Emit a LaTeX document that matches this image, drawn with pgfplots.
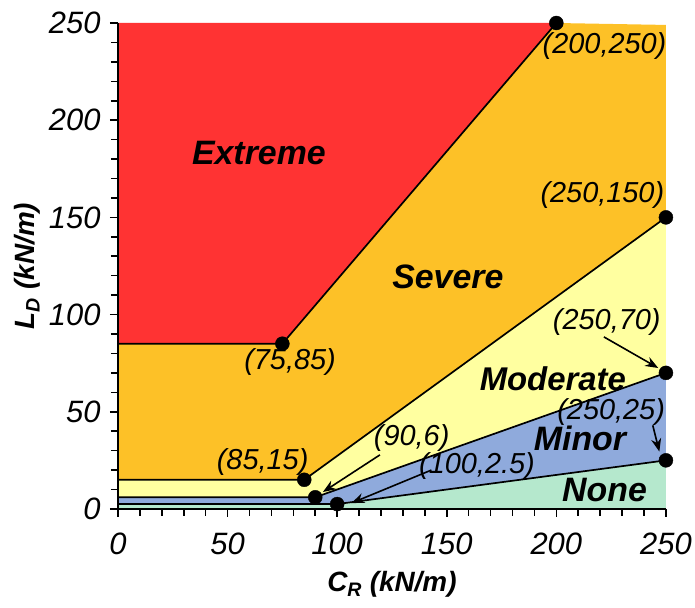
\documentclass[border=0pt]{standalone}
\usepackage{fontspec}
\setmainfont{Liberation Sans}
\usepackage{pgfplots}
\pgfplotsset{compat=1.18}
\usetikzlibrary{arrows.meta}
\definecolor{cExt}{RGB}{255,51,51}
\definecolor{cSev}{RGB}{253,193,39}
\definecolor{cMod}{RGB}{255,255,160}
\definecolor{cMin}{RGB}{143,170,220}
\definecolor{cNone}{RGB}{181,232,205}
\begin{document}
\begin{tikzpicture}
\begin{axis}[
  scale only axis, width=548bp, height=486bp,
  at={(0,0)}, anchor=south west,
  xmin=0, xmax=250, ymin=0, ymax=250,
  axis lines=left, axis line style={-, line width=1.6bp},
  xtick={0,50,...,250}, ytick={0,50,...,250},
  minor x tick num=4, minor y tick num=4,
  tick align=outside, major tick length=8bp, minor tick length=7bp,
  tick style={black, line width=1.6bp},
  /pgf/number format/assume math mode=true,
  ticklabel style={font=\fontsize{31}{34}\selectfont\itshape},
  xticklabel style={yshift=-12bp},
  yticklabel style={xshift=-6bp},
  clip=false, axis on top,
  xlabel={\fontsize{28}{32}\selectfont\bfseries\itshape C\textsubscript{R} (kN/m)},
  ylabel={\fontsize{28}{32}\selectfont\bfseries\itshape L\textsubscript{D} (kN/m)},
  xlabel style={at={(axis description cs:0.5,-0.155)}, anchor=center},
  ylabel style={at={(axis description cs:-0.165,0.5)}, anchor=center, rotate=0},
]
% regions
\addplot[fill=cExt, draw=none] coordinates {(0,85) (75,85) (200,250) (0,250)} -- cycle;
\addplot[fill=cSev, draw=none] coordinates {(0,15) (85,15) (250,150) (250,249) (200,250) (75,85) (0,85)} -- cycle;
\addplot[fill=cMod, draw=none] coordinates {(0,6) (90,6) (250,70) (250,150) (85,15) (0,15)} -- cycle;
\addplot[fill=cMin, draw=none] coordinates {(0,2.5) (100,2.5) (250,25) (250,70) (90,6) (0,6)} -- cycle;
\addplot[fill=cNone, draw=none] coordinates {(0,0) (250,0) (250,25) (100,2.5) (0,2.5)} -- cycle;
% boundaries
\addplot[black, line width=1.7bp] coordinates {(0,85) (75,85) (200,250)};
\addplot[black, line width=1.7bp] coordinates {(0,15) (85,15) (250,150)};
\addplot[black, line width=1.7bp] coordinates {(0,6) (90,6) (250,70)};
\addplot[black, line width=1.7bp] coordinates {(0,2.5) (100,2.5) (250,25)};
% points
\addplot[only marks, mark=*, mark size=7bp, black] coordinates {(200,250) (250,150) (75,85) (250,70) (250,25) (85,15) (90,6) (100,2.5)};
% arrows
\draw[-{Stealth[length=13bp,width=10bp]}, line width=1.6bp] (axis cs:119.5,27.8) -- (axis cs:93.5,8.7);
\draw[-{Stealth[length=13bp,width=10bp]}, line width=1.6bp] (axis cs:143,20) -- (axis cs:106.5,3.0);
\draw[-{Stealth[length=13bp,width=10bp]}, line width=1.6bp] (axis cs:221.7,88.5) -- (axis cs:246.5,72.5);
\draw[-{Stealth[length=13bp,width=10bp]}, line width=1.6bp] (axis cs:244,43) -- (axis cs:247,29.5);
% region labels
\node[font=\fontsize{34}{36}\selectfont\bfseries\itshape] at (axis cs:64.3,183) {Extreme};
\node[font=\fontsize{34}{36}\selectfont\bfseries\itshape] at (axis cs:150.5,119.3) {Severe};
\node[font=\fontsize{33}{36}\selectfont\bfseries\itshape] at (axis cs:198.4,67.2) {Moderate};
\node[font=\fontsize{34}{36}\selectfont\bfseries\itshape] at (axis cs:210.8,36.5) {Minor};
\node[font=\fontsize{34}{36}\selectfont\bfseries\itshape] at (axis cs:222,9.8) {None};
% point labels
\node[font=\fontsize{29}{32}\selectfont\itshape] at (axis cs:222,238) {(200,250)};
\node[font=\fontsize{29}{32}\selectfont\itshape] at (axis cs:221,161.5) {(250,150)};
\node[font=\fontsize{29}{32}\selectfont\itshape] at (axis cs:78.5,75.6) {(75,85)};
\node[font=\fontsize{29}{32}\selectfont\itshape] at (axis cs:223,96) {(250,70)};
\node[font=\fontsize{29}{32}\selectfont\itshape] at (axis cs:225,49.8) {(250,25)};
\node[font=\fontsize{29}{32}\selectfont\itshape] at (axis cs:66,24) {(85,15)};
\node[font=\fontsize{29}{32}\selectfont\itshape] at (axis cs:134,36.5) {(90,6)};
\node[font=\fontsize{29}{32}\selectfont\itshape] at (axis cs:163.8,22) {(100,2.5)};
\end{axis}
\path (-118bp,-99bp) rectangle (577bp,509bp);
\end{tikzpicture}
\end{document}
